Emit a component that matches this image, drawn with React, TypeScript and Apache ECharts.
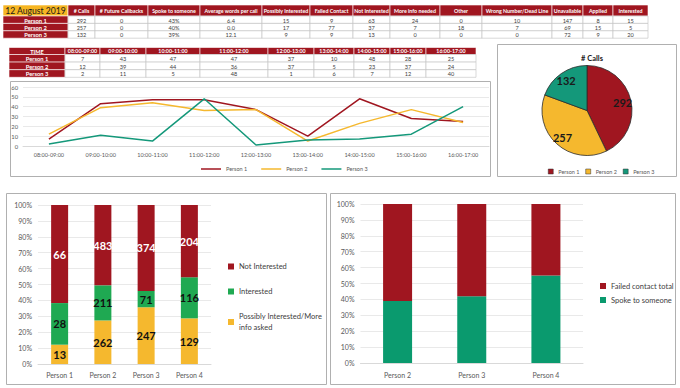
import React, { useEffect, useRef } from 'react';
import * as echarts from 'echarts';

// ---------- data ----------
const reportDate = '12 August 2019';
const people = ['Person 1', 'Person 2', 'Person 3'];
const summaryHeaders = [
  '# Calls', '# Future Callbacks', 'Spoke to someone', 'Average words per call',
  'Possibly Interested', 'Failed Contact', 'Not Interested', 'More info needed',
  'Other', 'Wrong Number/Dead Line', 'Unavailable', 'Applied', 'Interested',
];
const summaryPerson1 = ['292', '0', '43%', '6.4', '15', '9', '63', '24', '0', '10', '147', '8', '15'];
const summaryPerson2 = ['257', '0', '40%', '0.0', '17', '77', '37', '7', '18', '7', '69', '15', '5'];
const summaryPerson3 = ['132', '0', '39%', '12.1', '9', '9', '13', '0', '0', '0', '72', '9', '20'];

const hours = [
  '08:00-09:00', '09:00-10:00', '10:00-11:00', '11:00-12:00', '12:00-13:00',
  '13:00-14:00', '14:00-15:00', '15:00-16:00', '16:00-17:00',
];
const hourlyPerson1 = [7, 43, 47, 47, 37, 10, 48, 28, 25];
const hourlyPerson2 = [12, 39, 44, 36, 37, 5, 23, 37, 24];
const hourlyPerson3 = [2, 11, 5, 48, 1, 6, 7, 12, 40];

const pieTitle = '# Calls';
const totalCalls = [292, 257, 132];

const interestPersons = ['Person 1', 'Person 2', 'Person 3', 'Person 4'];
const possiblyInterested = [13, 262, 247, 129];
const interested = [28, 211, 71, 116];
const notInterested = [66, 483, 374, 204];

const contactPersons = ['Person 2', 'Person 3', 'Person 4'];
const spokeToSomeonePct = [39, 42, 55];
const failedContactPct = [61, 58, 45];

// ---------- styles ----------
const FONT = 'Lato, "Open Sans", sans-serif';
const RED = '#A01620';
const GOLD = '#F5B82E';
const TEAL = '#14987A';
const GREEN = '#1FA952';
const DGREEN = '#0A9A6E';
const AXIS_TXT = '#595959';
const GRID_LINE = '#E3E3E3';

type TableSpec = {
  corner: string; cornerFill: string; cornerColor: string; cornerSize: number;
  headers: string[]; rowLabels: string[]; rows: (string | number)[][];
  x0: number; bounds: number[]; y0: number; headerH: number; rowH: number;
  headerSize: number; cellSize: number; labelSize: number;
};

function buildTable(t: TableSpec) {
  const els: any[] = [];
  const cell = (x: number, y: number, w: number, h: number, fill: string, stroke: string,
    text: string, color: string, size: number, weight: string) => {
    els.push({ type: 'rect', silent: true, z: 10, shape: { x, y, width: w, height: h }, style: { fill, stroke, lineWidth: 0.6 } });
    els.push({
      type: 'text', silent: true, z: 11,
      style: { text, x: x + w / 2, y: y + h / 2 + 0.3, textAlign: 'center', textVerticalAlign: 'middle', fill: color, fontSize: size, fontWeight: weight, fontFamily: FONT },
    });
  };
  const labelW = t.bounds[0] - t.x0;
  cell(t.x0, t.y0, labelW, t.headerH, t.cornerFill, '#ffffff', t.corner, t.cornerColor, t.cornerSize, t.cornerFill === RED ? 'bold' : 'normal');
  t.headers.forEach((h, i) => {
    cell(t.bounds[i], t.y0, t.bounds[i + 1] - t.bounds[i], t.headerH, RED, '#ffffff', h, '#ffffff', t.headerSize, 'bold');
  });
  t.rowLabels.forEach((lab, r) => {
    const y = t.y0 + t.headerH + r * t.rowH;
    cell(t.x0, y, labelW, t.rowH, RED, '#ffffff', lab, '#ffffff', t.labelSize, 'bold');
    t.rows[r].forEach((v, i) => {
      cell(t.bounds[i], y, t.bounds[i + 1] - t.bounds[i], t.rowH, '#ffffff', '#BFBFBF', String(v), '#404040', t.cellSize, 'normal');
    });
  });
  return els;
}

const box = (x: number, y: number, w: number, h: number) => ({
  type: 'rect', silent: true, z: 0, shape: { x, y, width: w, height: h },
  style: { fill: '#ffffff', stroke: '#B0B0B0', lineWidth: 1 },
});

export default function App() {
  const ref = useRef<HTMLDivElement>(null);
  useEffect(() => {
    if (!ref.current) return;
    const chart = echarts.init(ref.current, undefined, { renderer: 'svg' });

    const table1 = buildTable({
      corner: reportDate, cornerFill: '#F6B522', cornerColor: '#1a1a1a', cornerSize: 8.6,
      headers: summaryHeaders, rowLabels: people, rows: [summaryPerson1, summaryPerson2, summaryPerson3],
      x0: 3, bounds: [68, 95, 148, 200, 262, 310, 353, 390, 440, 482, 552, 583, 613, 648],
      y0: 5, headerH: 11, rowH: 7.4, headerSize: 5.3, cellSize: 5.6, labelSize: 5.8,
    });
    const table2 = buildTable({
      corner: 'TIME', cornerFill: RED, cornerColor: '#ffffff', cornerSize: 5.6,
      headers: hours, rowLabels: people, rows: [hourlyPerson1, hourlyPerson2, hourlyPerson3],
      x0: 9, bounds: [65, 100, 146, 200, 268, 314, 354, 390, 426, 476],
      y0: 47.5, headerH: 7, rowH: 7.6, headerSize: 5.3, cellSize: 5.6, labelSize: 5.8,
    });

    const interestTotals = interestPersons.map((_, i) => possiblyInterested[i] + interested[i] + notInterested[i]);
    const pct = (arr: number[]) => arr.map((v, i) => (v / interestTotals[i]) * 100);

    const barLabel = (raw: number[], color: string) => ({
      show: true, position: 'inside', color, fontSize: 11, fontWeight: 'bold', fontFamily: FONT,
      formatter: (p: any) => String(raw[p.dataIndex]),
    });

    const catAxisBase = {
      type: 'category', axisTick: { show: false },
      axisLine: { lineStyle: { color: '#D9D9D9' } },
    };
    const valAxisBase = {
      type: 'value', axisLine: { show: false }, axisTick: { show: false },
      splitLine: { lineStyle: { color: GRID_LINE, width: 0.8 } },
    };

    const lineColors = [RED, GOLD, TEAL];
    const hourly = [hourlyPerson1, hourlyPerson2, hourlyPerson3];

    chart.setOption({
      animation: false,
      backgroundColor: '#ffffff',
      textStyle: { fontFamily: FONT },
      title: {
        text: pieTitle, left: 587, top: 49, textAlign: 'center',
        textStyle: { fontSize: 7.5, fontWeight: 'bold', color: '#1a1a1a', fontFamily: FONT },
      },
      graphic: [
        box(10.5, 81.5, 480, 95),
        box(497.5, 44.5, 179, 132),
        box(6.5, 193.5, 320, 191),
        box(330.5, 193.5, 345, 191),
        ...table1,
        ...table2,
      ],
      legend: [
        {
          left: 196, top: 161, itemWidth: 20, itemHeight: 8, itemGap: 14,
          textStyle: { fontSize: 5.5, color: AXIS_TXT },
          data: people.map((n, i) => ({ name: n, icon: 'path://M0,0L20,0L20,1.5L0,1.5Z', itemStyle: { color: lineColors[i] } })),
        },
        {
          left: 543, top: 163.5, itemWidth: 5, itemHeight: 5, itemGap: 6,
          textStyle: { fontSize: 5.5, color: AXIS_TXT },
          data: people.map((n, i) => ({ name: n, icon: 'rect', itemStyle: { color: lineColors[i], borderColor: '#333', borderWidth: 0.5 } })),
        },
        {
          orient: 'vertical', left: 223, top: 256, itemWidth: 6, itemHeight: 6, itemGap: 14,
          textStyle: { fontSize: 7.5, color: '#404040', lineHeight: 11 },
          data: [
            { name: 'Not Interested', icon: 'rect', itemStyle: { color: RED } },
            { name: 'Interested', icon: 'rect', itemStyle: { color: GREEN } },
            { name: 'Possibly Interested/More info asked', icon: 'rect', itemStyle: { color: GOLD } },
          ],
          formatter: (n: string) => n === 'Possibly Interested/More info asked' ? 'Possibly Interested/More\ninfo asked' : n,
        },
        {
          orient: 'vertical', left: 595, top: 277, itemWidth: 6, itemHeight: 6, itemGap: 6,
          textStyle: { fontSize: 7.5, color: '#404040' },
          data: [
            { name: 'Failed contact total', icon: 'rect', itemStyle: { color: RED } },
            { name: 'Spoke to someone', icon: 'rect', itemStyle: { color: DGREEN } },
          ],
        },
      ],
      grid: [
        { left: 23, top: 87, width: 466, height: 59 },
        { left: 38, top: 205, width: 173, height: 159 },
        { left: 360.5, top: 204, width: 222.5, height: 159 },
      ],
      xAxis: [
        { ...catAxisBase, gridIndex: 0, data: hours, axisLabel: { fontSize: 5.5, color: AXIS_TXT, margin: 6 } },
        { ...catAxisBase, gridIndex: 1, data: interestPersons, axisLabel: { fontSize: 7, color: AXIS_TXT, margin: 7 } },
        { ...catAxisBase, gridIndex: 2, data: contactPersons, axisLabel: { fontSize: 7, color: AXIS_TXT, margin: 8 } },
      ],
      yAxis: [
        { ...valAxisBase, gridIndex: 0, min: 0, max: 60, interval: 10, axisLabel: { fontSize: 5.8, color: AXIS_TXT, margin: 5 } },
        { ...valAxisBase, gridIndex: 1, min: 0, max: 100, interval: 10, axisLabel: { fontSize: 7, color: AXIS_TXT, margin: 6, formatter: '{value}%' } },
        { ...valAxisBase, gridIndex: 2, min: 0, max: 100, interval: 10, axisLabel: { fontSize: 7, color: AXIS_TXT, margin: 6, formatter: '{value}%' } },
      ],
      series: [
        ...people.map((n, i) => ({
          type: 'line', name: n, xAxisIndex: 0, yAxisIndex: 0, data: hourly[i],
          symbol: 'none', lineStyle: { color: lineColors[i], width: 1.5 }, itemStyle: { color: lineColors[i] },
        })),
        {
          type: 'pie', name: 'calls', center: [587, 110.5], radius: [0, 45], startAngle: 90,
          label: { show: false }, labelLine: { show: false },
          itemStyle: { borderColor: '#2b2b2b', borderWidth: 0.8 },
          data: people.map((n, i) => ({ name: n, value: totalCalls[i], itemStyle: { color: lineColors[i] } })),
        },
        {
          type: 'pie', name: 'callsLabels', center: [587, 110.5], radius: [22, 45], startAngle: 90, silent: true,
          label: { show: true, position: 'inside', fontSize: 11, fontWeight: 'bold', color: '#1a1a1a', fontFamily: FONT, formatter: '{c}' },
          labelLine: { show: false },
          itemStyle: { color: 'rgba(0,0,0,0)', borderWidth: 0 },
          data: people.map((n, i) => ({ name: n, value: totalCalls[i] })),
        },
        {
          type: 'bar', name: 'Possibly Interested/More info asked', stack: 'interest', xAxisIndex: 1, yAxisIndex: 1,
          barWidth: 17, data: pct(possiblyInterested), itemStyle: { color: GOLD },
          label: barLabel(possiblyInterested, '#111111'),
        },
        {
          type: 'bar', name: 'Interested', stack: 'interest', xAxisIndex: 1, yAxisIndex: 1,
          barWidth: 17, data: pct(interested), itemStyle: { color: GREEN },
          label: barLabel(interested, '#111111'),
        },
        {
          type: 'bar', name: 'Not Interested', stack: 'interest', xAxisIndex: 1, yAxisIndex: 1,
          barWidth: 17, data: pct(notInterested), itemStyle: { color: RED },
          label: barLabel(notInterested, '#ffffff'),
        },
        {
          type: 'bar', name: 'Spoke to someone', stack: 'contact', xAxisIndex: 2, yAxisIndex: 2,
          barWidth: 29, data: spokeToSomeonePct, itemStyle: { color: DGREEN },
        },
        {
          type: 'bar', name: 'Failed contact total', stack: 'contact', xAxisIndex: 2, yAxisIndex: 2,
          barWidth: 29, data: failedContactPct, itemStyle: { color: RED },
        },
      ],
    });
    return () => chart.dispose();
  }, []);

  return (
    <div
      ref={ref}
      style={{ position: 'fixed', left: 0, top: 0, width: 680, height: 388, background: '#ffffff' }}
    />
  );
}
